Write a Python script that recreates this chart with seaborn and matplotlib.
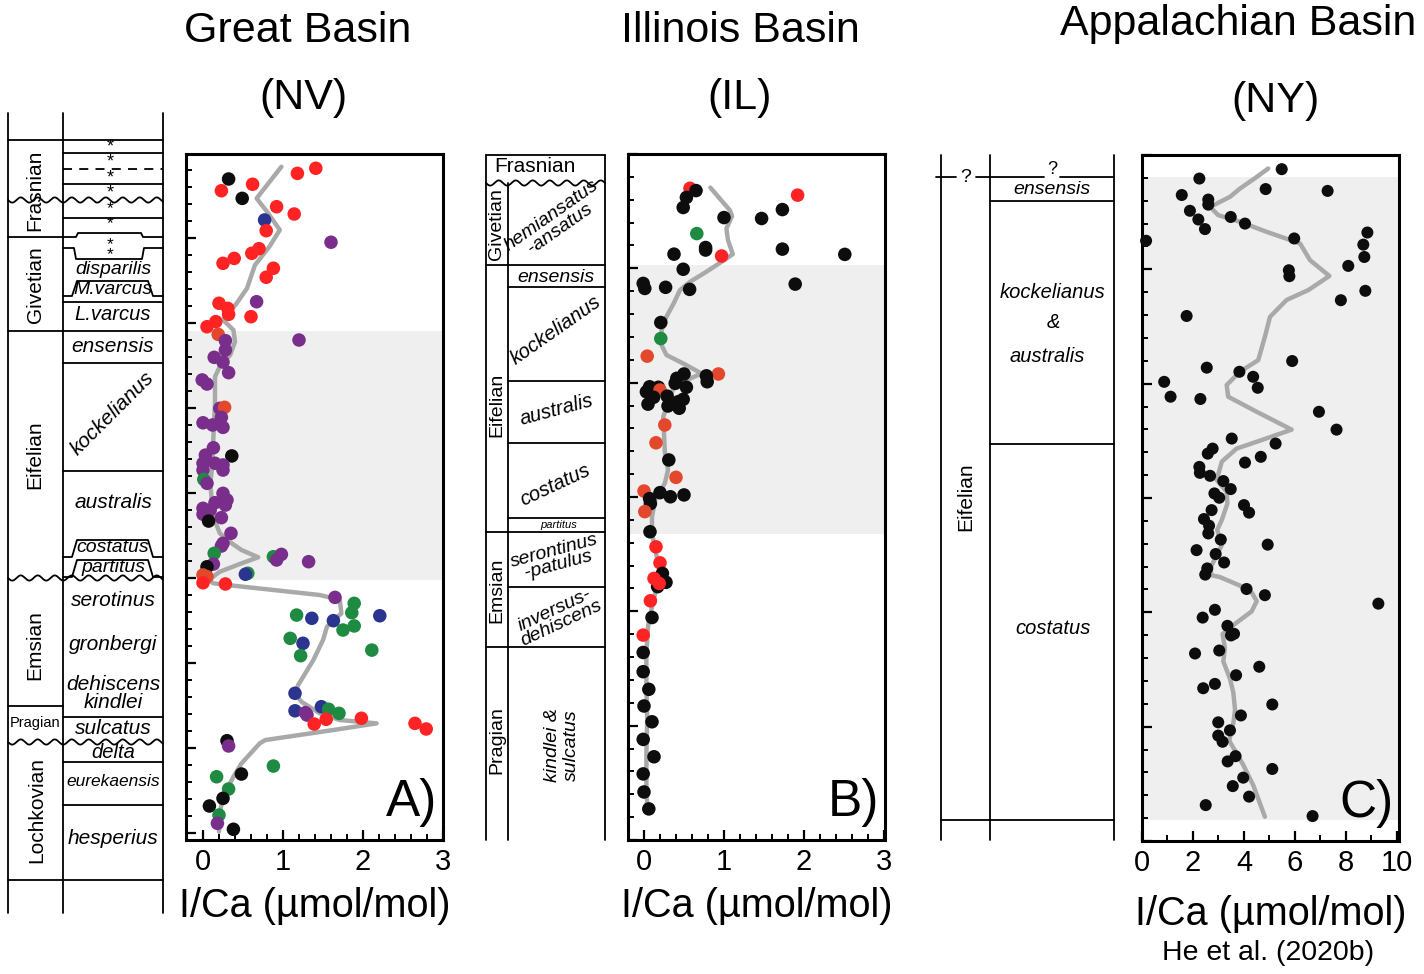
import numpy as np
import pandas as pd
import matplotlib
matplotlib.use("Agg")
import matplotlib.pyplot as plt
import seaborn as sns

# === DATI: pannello A (Great Basin, NV) ===
# altezza stratigrafica in unità arbitrarie (tacca ogni 10), I/Ca in µmol/mol
a_ica = [1.41, 1.18, 0.32, 0.62, 0.23, 0.49, 0.92, 1.14, 0.77, 0.79,
         1.60, 0.70, 0.61, 0.39, 0.25, 0.88, 0.79, 0.67, 0.20, 0.31,
         0.32, 0.60, 0.16, 0.05, 0.19, 1.20, 0.28, 0.28, 0.14, 0.25,
         0.32, -0.01, 0.05, 0.21, 0.27, 0.23, 0.00, 0.12, 0.25, 0.13,
         0.36, 0.03, 0.00, 0.15, 0.25, 0.25, 0.00, 0.01, 0.05, 0.25,
         0.30, 0.15, 0.28, 0.00, 0.09, 0.00, 0.23, 0.07, 0.35, 0.25,
         0.23, 0.14, 0.88, 0.98, 0.92, 1.32, 0.13, 0.05, 0.56, 0.53,
         0.00, 0.05, 0.00, 0.28, 1.65, 1.89, 1.86, 1.17, 1.36, 2.21,
         1.63, 1.89, 1.75, 1.09, 1.25, 2.11, 1.22, 1.15, 1.15, 1.48,
         1.57, 1.70, 1.28, 1.30, 1.54, 1.39, 1.98, 2.65, 2.79, 0.30,
         0.32, 0.88, 0.48, 0.17, 0.32, 0.25, 0.08, 0.20, 0.18, 0.38]
a_height = [391.0, 388.0, 384.7, 381.6, 377.8, 373.3, 368.4, 364.1, 360.6, 354.3,
            347.5, 343.7, 341.0, 338.0, 335.1, 332.2, 326.9, 312.5, 311.6, 308.6,
            305.1, 303.7, 300.8, 297.8, 293.3, 290.0, 289.6, 284.1, 279.8, 277.0,
            270.8, 266.5, 264.1, 249.8, 250.4, 244.5, 241.3, 240.0, 238.6, 226.6,
            221.8, 222.3, 217.5, 217.5, 216.5, 213.5, 213.5, 208.0, 205.7, 199.8,
            195.9, 194.3, 192.9, 191.0, 190.0, 187.5, 185.5, 183.5, 176.3, 170.4,
            168.8, 164.5, 162.5, 163.9, 160.6, 159.6, 158.2, 156.6, 152.8, 152.2,
            151.8, 150.8, 147.2, 146.5, 138.6, 135.1, 129.6, 128.2, 126.3, 127.8,
            124.9, 121.8, 119.4, 114.5, 111.6, 107.6, 104.3, 82.2, 71.9, 74.3,
            72.8, 70.4, 70.8, 69.4, 66.9, 64.1, 67.5, 64.5, 61.2, 54.3,
            51.2, 39.4, 34.7, 33.1, 25.9, 20.4, 15.9, 10.6, 5.7, 2.2]
a_group = list("rrkrrkrrbr" "prrrrrrprr" "rrrroppppp" "ppppoppppp" "kppppppgpp"
               "pppppppkpp" "pggppppkgb" "oorrpgggbb" "bgggbggbbb" "ggpprrrrrk"
               "pgkggkkgpk")
a_trend_ica = [0.98, 0.67, 0.80, 0.96, 0.83, 0.65, 0.55, 0.42, 0.25, 0.38,
               0.40, 0.34, 0.21, 0.15, 0.15, 0.13, 0.11, 0.09, 0.13, 0.21,
               0.36, 0.48, 0.69, 0.48, 0.21, 0.07, 0.13, 0.30, 1.46, 1.71,
               1.73, 1.55, 1.50, 1.38, 1.19, 1.15, 1.23, 1.46, 1.71, 2.17,
               1.63, 0.78, 0.71, 0.48, 0.38, 0.25, 0.21, 0.20]
a_trend_height = [391.9, 373.3, 365.5, 354.7, 344.9, 334.1, 320.4, 311.5, 301.8, 295.9,
                  289.0, 281.2, 274.3, 268.4, 252.8, 233.1, 213.5, 205.7, 186.0, 176.3,
                  170.4, 166.5, 162.2, 158.6, 153.7, 148.8, 146.9, 145.9, 140.0, 137.1,
                  129.2, 121.4, 113.5, 101.8, 87.1, 82.2, 77.2, 70.4, 66.5, 64.5,
                  60.6, 54.7, 52.8, 40.9, 33.1, 21.4, 11.6, 0.8]
a_shade = [148.8, 295.3]

# === DATI: pannello B (Illinois Basin, IL) ===
b_ica = [0.575, 0.65, 0.53, 0.49, 1.92, 1.73, 1.00, 1.47, 0.66, 0.77,
         0.77, 1.73, 0.375, 0.97, 2.51, 0.49, 1.89, -0.01, 0.01, 0.27,
         0.57, 0.21, 0.21, 0.04, 0.93, 0.78, 0.79, 0.50, 0.41, 0.39,
         0.53, 0.07, 0.03, 0.18, 0.20, 0.12, 0.29, 0.49, 0.43, 0.05,
         0.30, 0.44, 0.26, 0.15, 0.31, 0.40, 0.00, 0.20, 0.33, 0.50,
         0.07, 0.08, 0.01, 0.075, 0.15, 0.20, 0.23, 0.275, 0.17, 0.125,
         0.19, 0.08, 0.10, -0.01, -0.01, -0.01, 0.06, 0.00, 0.10, -0.01,
         0.125, -0.01, 0.00, 0.06]
b_height = [285.0, 284.0, 281.0, 276.6, 282.0, 275.7, 272.2, 271.8, 265.2, 259.1,
            258.0, 258.4, 256.2, 255.4, 256.1, 249.6, 243.1, 243.4, 241.2, 241.7,
            240.8, 226.3, 219.3, 211.6, 203.8, 203.0, 200.4, 203.8, 201.9, 199.7,
            198.0, 198.2, 196.0, 198.0, 196.8, 193.6, 194.1, 192.7, 191.7, 190.6,
            189.8, 188.8, 181.5, 173.7, 166.2, 158.6, 152.6, 151.9, 150.1, 150.9,
            149.3, 147.1, 143.6, 134.8, 128.2, 121.2, 116.6, 112.7, 110.8, 114.4,
            112.2, 104.6, 97.3, 89.6, 82.0, 73.6, 65.9, 58.6, 51.7, 44.0,
            36.4, 28.9, 21.0, 13.6]
b_group = list("rkkkrkkkgk" "kkkrkkkkkk" "kkgookkkkk" "kkkkokkkkk" "kkookookkk"
               "kkokrrkkkr" "rrkrkkkkkk" "kkkk")
b_trend_ica = [0.83, 1.075, 1.10, 1.03, 1.05, 1.11, 0.95, 0.78, 0.575, 0.45,
               0.37, 0.28, 0.22, 0.22, 0.28, 0.49, 0.72, 0.53, 0.37, 0.30,
               0.24, 0.25, 0.26, 0.30, 0.26, 0.14, 0.10, 0.10, 0.16, 0.22,
               0.16, 0.10, 0.05, 0.03, 0.03, 0.04, 0.03, 0.03, 0.04]
b_trend_height = [285.3, 275.3, 272.8, 267.4, 262.3, 256.2, 252.4, 248.5, 244.1, 240.5,
                  234.6, 228.8, 223.0, 216.4, 212.1, 208.4, 204.0, 201.1, 197.9, 190.9,
                  185.1, 177.8, 169.8, 161.8, 156.0, 148.7, 141.4, 134.1, 123.8, 115.1,
                  110.8, 102.0, 93.3, 81.6, 67.0, 52.5, 37.9, 23.3, 15.3]
b_shade = [133.8, 251.4]

# === DATI: pannello C (Appalachian Basin, NY) — He et al. (2020b) ===
c_ica = [5.48, 2.25, 4.85, 7.28, 1.56, 2.60, 2.60, 1.88, 3.48, 2.21,
         4.04, 2.47, 8.84, 0.16, 5.97, 8.68, 8.72, 8.09, 5.76, 5.78,
         8.76, 7.80, 1.75, 5.89, 2.54, 3.82, 4.36, 0.87, 4.54, 1.12,
         2.29, 6.94, 7.63, 3.52, 5.24, 2.77, 2.58, 4.66, 4.04, 2.25,
         2.27, 2.67, 3.19, 3.48, 2.84, 3.03, 4.00, 4.20, 2.73, 2.43,
         2.63, 2.60, 3.09, 4.93, 2.14, 2.89, 3.22, 2.56, 2.48, 4.10,
         4.82, 9.27, 2.86, 2.38, 3.35, 3.61, 3.49, 2.08, 3.03, 4.60,
         3.69, 2.86, 2.40, 5.11, 3.88, 2.99, 3.45, 2.99, 3.16, 3.67,
         3.36, 5.11, 3.97, 3.56, 4.20, 2.50, 6.69]
c_height = [293.8, 289.7, 285.1, 284.3, 282.5, 280.5, 278.3, 275.6, 272.9, 271.8,
            270.0, 267.6, 266.1, 262.5, 263.5, 260.8, 255.4, 251.5, 249.6, 247.0,
            240.6, 236.5, 229.6, 209.9, 207.0, 205.2, 203.0, 200.8, 198.2, 194.3,
            193.3, 187.7, 179.9, 176.0, 173.8, 171.6, 169.4, 168.0, 165.5, 163.6,
            161.0, 159.7, 157.4, 153.9, 152.0, 150.1, 146.9, 143.6, 144.7, 140.8,
            137.9, 134.5, 131.8, 129.6, 127.2, 125.5, 121.8, 119.2, 116.5, 110.2,
            107.5, 103.8, 101.1, 97.7, 94.1, 90.6, 89.9, 82.0, 83.3, 76.2,
            72.5, 68.7, 66.8, 59.7, 54.9, 51.9, 48.4, 46.1, 43.4, 37.1,
            34.8, 31.5, 27.7, 24.0, 19.4, 15.7, 10.9]
c_trend_ica = [4.95, 4.50, 3.84, 3.45, 2.67, 2.99, 3.84, 4.89, 5.74, 6.20,
               6.59, 7.35, 6.52, 5.67, 5.02, 4.82, 4.56, 3.84, 3.32, 3.38,
               4.50, 5.87, 4.76, 3.71, 3.13, 2.93, 3.32, 3.35, 3.13, 2.95,
               3.13, 2.67, 2.73, 3.06, 3.84, 4.30, 4.50, 4.30, 3.58, 3.16,
               3.25, 3.19, 3.45, 3.58, 3.65, 3.58, 3.42, 3.97, 4.37, 4.82]
c_trend_height = [294.1, 290.4, 285.3, 281.7, 277.3, 273.7, 270.8, 266.4, 263.1, 261.3,
                  254.0, 247.1, 240.9, 236.6, 229.2, 220.5, 210.3, 205.2, 199.4, 194.3,
                  187.7, 179.9, 175.6, 171.6, 165.9, 157.9, 152.7, 147.6, 140.4, 136.0,
                  129.4, 119.2, 116.2, 115.4, 111.7, 108.7, 104.9, 100.4, 94.4, 90.5,
                  84.5, 78.5, 71.0, 65.0, 57.4, 51.4, 43.9, 33.3, 24.2, 10.6]
c_shade = [9.2, 290.3]

palette = {"k": "#0d0d0d", "r": "#ff2323", "b": "#2b3590", "p": "#7a2e8c",
           "g": "#1f8a42", "o": "#e4482c"}

sns.set_style("ticks")
plt.rcParams["font.family"] = ["Liberation Sans", "DejaVu Sans"]
plt.rcParams.update({"text.color": "black", "axes.labelcolor": "black",
                     "xtick.color": "black", "ytick.color": "black",
                     "axes.edgecolor": "black"})

W, H = 1424, 974
fig = plt.figure(figsize=(W / 100, H / 100), dpi=100)

# asse di sfondo in pixel per colonne stratigrafiche e titoli
ov = fig.add_axes([0, 0, 1, 1])
ov.set_xlim(0, W)
ov.set_ylim(H, 0)
ov.axis("off")


def px_axes(l, t, r, b):
    return fig.add_axes([l / W, 1 - b / H, (r - l) / W, (b - t) / H])


def riga(x0, x1, y, **kw):
    ov.plot([x0, x1], [y, y], color="k", lw=1.3, **kw)


def verticale(x, y0, y1):
    ov.plot([x, x], [y0, y1], color="k", lw=1.3)


def ondulata(y, x0, x1):
    xs = np.linspace(x0, x1, 400)
    ov.plot(xs, y + 2.6 * np.sin(2 * np.pi * (xs - x0) / 17), color="k", lw=1.3)


def linguetta(yt, yb, x0=63, x1=163):
    ov.plot([x0, x0 + 9, x0 + 14, x1 - 15, x1 - 10, x1], [yb, yb, yt, yt, yb, yb],
            color="k", lw=1.3)


def testo(x, y, s, size=15, rot=0, it=False, **kw):
    ov.text(x, y, s, fontsize=size, rotation=rot, ha="center", va="center",
            style="italic" if it else "normal", rotation_mode="anchor", **kw)


def pannello(box, ica, height, group, t_ica, t_height, shade, xlim, ylim,
             xmaj, xmin, ymaj, ymin, size, lettera, pad):
    ax = px_axes(*box)
    ax.axhspan(shade[0], shade[1], color="#efefef", lw=0, zorder=0)
    sns.lineplot(x=t_ica, y=t_height, sort=False, estimator=None, color="#a9a9a9",
                 lw=3.2, ax=ax, zorder=2)
    df = pd.DataFrame({"ica": ica, "h": height, "g": group})
    sns.scatterplot(data=df, x="ica", y="h", hue="g", palette=palette, s=size,
                    linewidth=0, legend=False, ax=ax, zorder=3, clip_on=False)
    ax.set_xlim(*xlim)
    ax.set_ylim(*ylim)
    ax.set_xticks(xmaj)
    ax.set_xticks(xmin, minor=True)
    ax.set_yticks(ymaj)
    ax.set_yticks(ymin, minor=True)
    ax.set_yticklabels([])
    ax.set_ylabel("")
    ax.set_xlabel("I/Ca (µmol/mol)", fontsize=28.5, labelpad=pad)
    ax.tick_params(which="major", direction="in", length=7, width=1.6,
                   labelsize=21, pad=6)
    ax.tick_params(which="minor", direction="in", length=4, width=1.4)
    for sp in ax.spines.values():
        sp.set_linewidth(2.2)
        sp.set_visible(True)
    ax.text(0.978, 0.055, lettera, transform=ax.transAxes, fontsize=37,
            ha="right", va="center")
    return ax


ax_a = pannello((186, 154, 443, 840), a_ica, a_height, a_group, a_trend_ica,
                a_trend_height, a_shade, (-0.2125, 3.0), (-4.1, 399.4),
                [0, 1, 2, 3], np.arange(0, 3.01, 0.2), np.arange(0, 400, 50),
                np.arange(0, 400, 10), 95, "A)", 8)
ax_b = pannello((628, 154, 885, 840), b_ica, b_height, b_group, b_trend_ica,
                b_trend_height, b_shade, (-0.2, 3.0125), (0, 300),
                [0, 1, 2, 3], np.arange(0, 3.01, 0.2), np.arange(0, 301, 50),
                np.arange(0, 301, 10), 95, "B)", 8)
ax_c = pannello((1142, 155, 1399, 841), c_ica, c_height, ["k"] * len(c_ica),
                c_trend_ica, c_trend_height, c_shade, (0, 10.08), (0, 300),
                [0, 2, 4, 6, 8, 10], np.arange(0, 11, 1), np.arange(0, 301, 50),
                np.arange(0, 301, 10), 75, "C)", 13)

# titoli
testo(298, 31, "Great Basin", 31)
testo(303, 98, "(NV)", 31)
testo(740, 31, "Illinois Basin", 31)
testo(740, 98, "(IL)", 31)
testo(1238, 24, "Appalachian Basin", 31)
testo(1275, 101, "(NY)", 31)
testo(1268, 953, "He et al. (2020b)", 20.5)

# === colonna stratigrafica A ===
for x in (8, 63, 163):
    verticale(x, 113, 913)
riga(8, 163, 140)
riga(8, 163, 880)
riga(8, 63, 237)
riga(8, 163, 331)
riga(8, 63, 706)
for y in (153, 184, 218, 302, 363, 471, 717, 762, 805):
    riga(63, 163, y)
riga(63, 163, 169, ls=(0, (5, 4)))
ondulata(200, 8, 163)
ondulata(578, 8, 163)
ondulata(742, 8, 163)
ov.plot([63, 76, 78, 141, 143, 163], [237, 237, 233, 233, 237, 237], color="k", lw=1.3)
ov.plot([63, 74, 76, 142, 144, 163], [248, 248, 259, 259, 248, 248], color="k", lw=1.3)
linguetta(281, 296)
linguetta(540, 557)
linguetta(560, 577)
# asterischi raggruppati per blocchi
testo(110, 170, "*\n*\n*\n*", 13, linespacing=0.88)
testo(110, 216, "*\n*", 12.5, linespacing=1.06)
testo(110, 250, "*\n*", 12.5, linespacing=0.58)
testo(35, 190, "Frasnian", 15, 90)
testo(35, 285, "Givetian", 15, 90)
testo(35, 455, "Eifelian", 15, 90)
testo(35, 645, "Emsian", 15, 90)
testo(35, 723, "Pragian", 10.5)
testo(37, 810, "Lochkovian", 15, 90)
for y, s, size in [(270, "disparilis", 14), (290, "M.varcus", 14), (315, "L.varcus", 14.5),
                   (347, "ensensis", 15), (502, "australis", 15), (548, "costatus", 14),
                   (568, "partitus", 14), (600, "serotinus", 15), (645, "gronbergi", 15),
                   (684, "dehiscens", 15), (702, "kindlei", 15), (729, "sulcatus", 15),
                   (752, "delta", 14.5), (781, "eurekaensis", 12.5), (839, "hesperius", 15)]:
    testo(113, y, s, size, it=True)
testo(112, 413, "kockelianus", 15, 45, it=True)

# === colonna stratigrafica B ===
verticale(486, 155, 840)
verticale(605, 155, 840)
verticale(508, 183, 840)
riga(486, 605, 155)
ondulata(183, 486, 605)
for y in (265, 532, 647):
    riga(486, 605, y)
for y in (287, 381, 443, 518, 587):
    riga(508, 605, y)
testo(535, 167, "Frasnian", 15)
testo(497, 224, "Givetian", 14, 90)
testo(497, 405, "Eifelian", 14, 90)
testo(497, 590, "Emsian", 14, 90)
testo(497, 740, "Pragian", 14, 90)
testo(556, 222, "hemiansatus\n-ansatus", 14, 35, it=True, linespacing=0.9)
testo(556, 278, "ensensis", 14, it=True)
testo(556, 330, "kockelianus", 14.5, 35, it=True)
testo(557, 410, "australis", 14.5, 15, it=True)
testo(555, 485, "costatus", 14.5, 25, it=True)
testo(559, 525, "partitus", 8, it=True)
testo(556, 558, "serontinus\n-patulus", 14, 15, it=True, linespacing=0.85)
testo(558, 617, "inversus-\ndehiscens", 14, 25, it=True, linespacing=0.85)
testo(562, 745, "kindlei &\nsulcatus", 14, 90, it=True, linespacing=1.2)

# === colonna stratigrafica C ===
for x in (941, 990, 1114):
    verticale(x, 155, 840)
riga(936, 956, 177)
riga(976, 990, 177)
riga(990, 1044, 177)
riga(1060, 1114, 177)
testo(966, 178, "?", 14)
testo(1052, 169, "?", 13)
riga(990, 1114, 201)
riga(990, 1114, 444)
riga(941, 1114, 820)
testo(966, 497, "Eifelian", 15, 90)
testo(1052, 190, "ensensis", 14, it=True)
testo(1053, 292, "kockelianus", 14.5, it=True)
testo(1053, 323, "&", 14.5, it=True)
testo(1047, 357, "australis", 14.5, it=True)
testo(1053, 628, "costatus", 14.5, it=True)

fig.savefig("out.png", dpi=100)
